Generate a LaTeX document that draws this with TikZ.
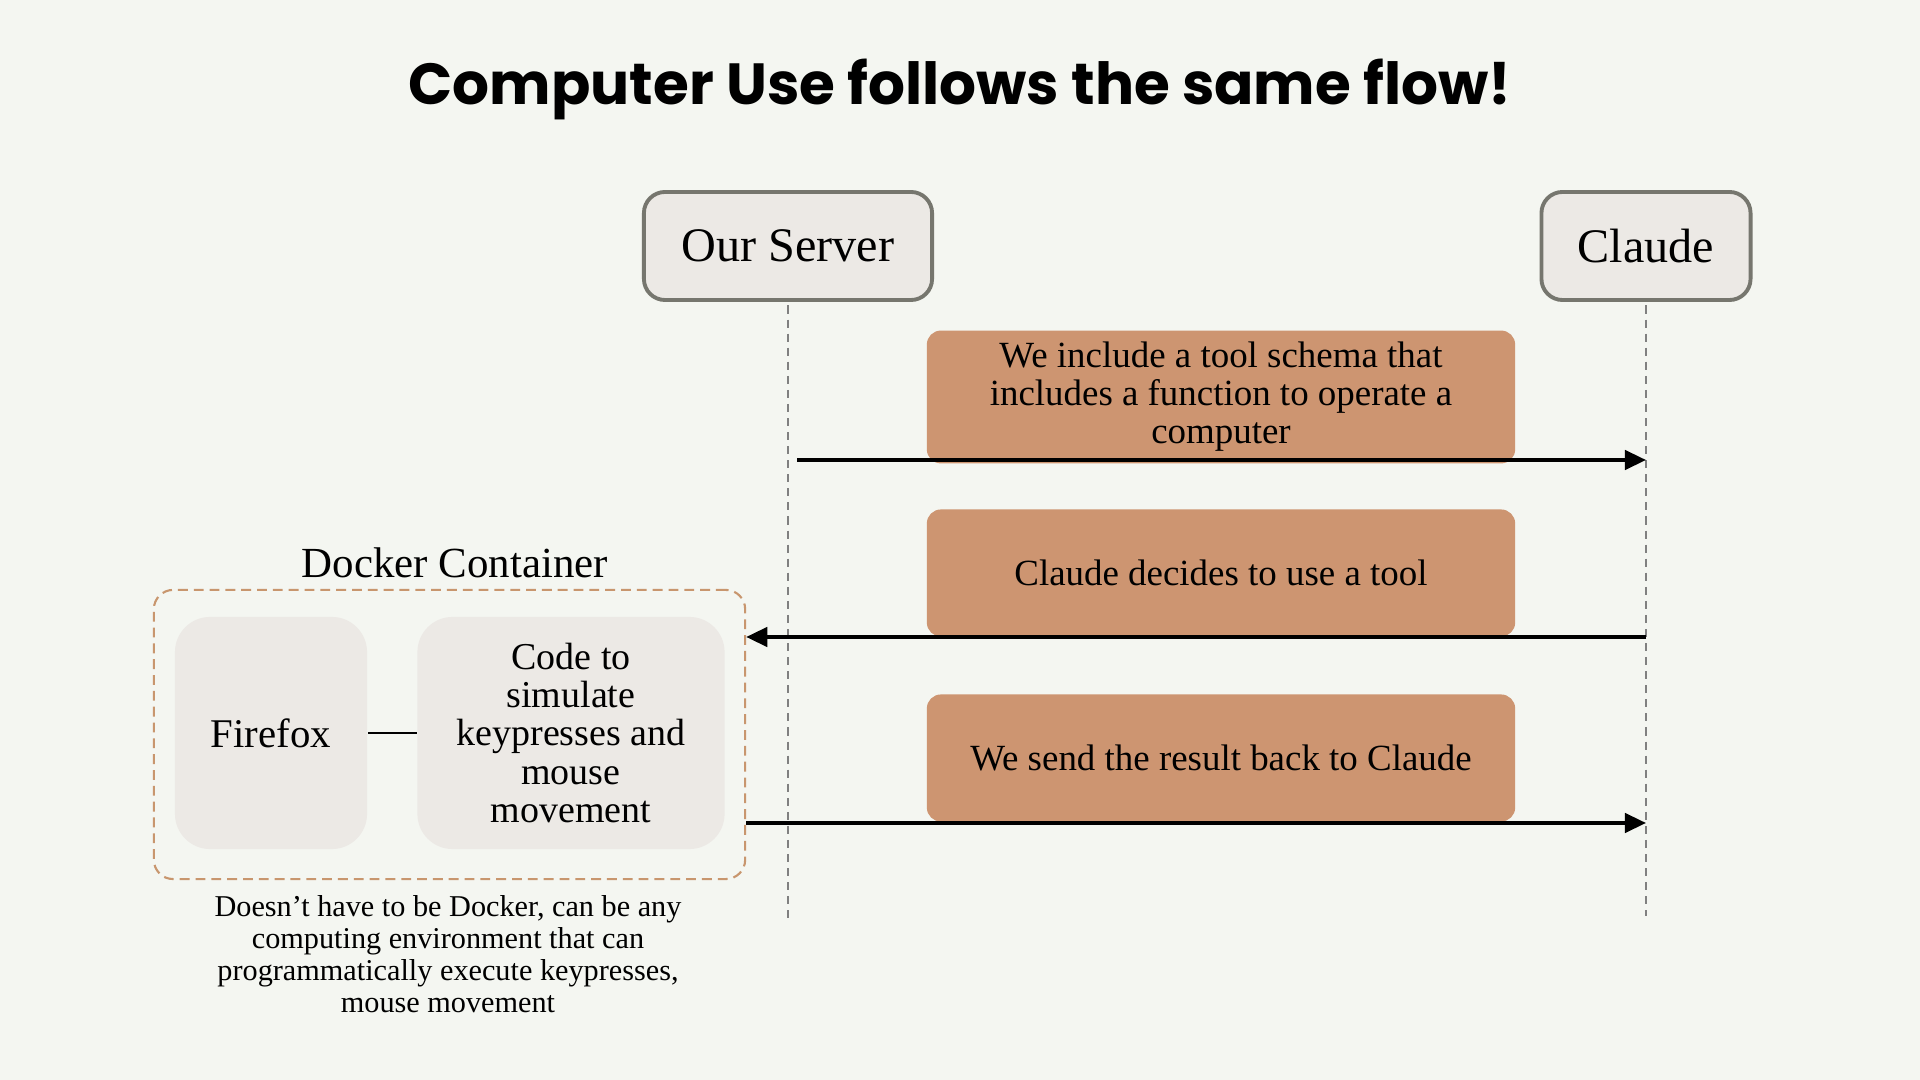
\documentclass[tikz,border=0pt]{standalone}
\usepackage{fontspec}
\setmainfont{Liberation Serif}
\newfontfamily\titlefont{Poppins}
\usetikzlibrary{arrows.meta,positioning}

\definecolor{pagebg}{RGB}{244,246,241}
\definecolor{boxgray}{RGB}{236,233,229}
\definecolor{boxedge}{RGB}{118,118,110}
\definecolor{clay}{RGB}{205,149,113}
\definecolor{claydash}{RGB}{200,150,110}
\definecolor{lifegray}{RGB}{128,128,128}

\tikzset{
    actor/.style={draw=boxedge, line width=1.1pt, fill=boxgray, rounded corners=6pt,
        minimum height=1.08cm, font=\fontsize{13.7}{16}\selectfont},
    msgbox/.style={fill=clay, rounded corners=4pt, minimum width=5.88cm,
        minimum height=1.27cm, align=center, font=\fontsize{10.5}{10.8}\selectfont},
    lifeline/.style={draw=lifegray, line width=0.6pt, dash pattern=on 2.3pt off 1.7pt},
    msg/.style={line width=1pt, -{Triangle[length=6pt,width=5.5pt]}},
    appbox/.style={fill=boxgray, rounded corners=10pt, minimum height=2.32cm,
        align=center, font=\fontsize{10.8}{10.9}\selectfont},
}

\begin{document}
\begin{tikzpicture}[x=0.01cm, y=-0.01cm]
        \useasboundingbox[fill=pagebg] (0,0) rectangle (1920,1080);

        \node[font=\titlefont\bfseries\fontsize{16.5}{20}\selectfont] (title) at (960,89) {Computer Use follows the same flow!};

        % Participants and lifelines
        \node[actor, minimum width=2.88cm] (server) at (788,246) {Our Server};
        \node[actor, minimum width=2.09cm] (claude) at (1646,246) {Claude};
        \coordinate (server end) at (788,918);
        \coordinate (claude end) at (1646,916);
        \draw[lifeline] ([yshift=-1pt]server.south) -- (server end);
        \draw[lifeline] ([yshift=-1pt]claude.south) -- (claude end);

        % Message boxes
        \node[msgbox, minimum height=1.25cm] (schema) at (1221,397) {We include a tool schema that\\includes a function to operate a\\computer};
        \node[msgbox] (decide) at (1221,573) {Claude decides to use a tool};
        \node[msgbox] (result) at (1221,758) {We send the result back to Claude};

        % Docker container
        \node[draw=claydash, line width=0.6pt, dash pattern=on 2.8pt off 1.7pt, rounded corners=5.5pt,
            minimum width=5.91cm, minimum height=2.89cm] (docker) at (449.5,734.5) {};
        \node[font=\fontsize{12.2}{14}\selectfont] (docker label) at (455,563) {Docker Container};
        \node[appbox, minimum width=1.92cm, font=\fontsize{11.6}{12}\selectfont] (firefox) at (271,733) {Firefox};
        \node[appbox, minimum width=3.07cm] (code) at (571,733) {Code to\\simulate\\keypresses and\\mouse\\movement};
        \draw[line width=0.5pt] (firefox) -- (code);
        \node[font=\fontsize{8.6}{9.1}\selectfont, align=center] (note) at (448,954) {Doesn’t have to be Docker, can be any\\computing environment that can\\programmatically execute keypresses,\\mouse movement};

        % Messages
        \coordinate (m1) at (797,460);
        \coordinate (m2) at (1646,637);
        \coordinate (m3) at (745,823);
        \draw[msg] (m1) -- (m1 -| claude.south);
        \draw[msg] (m2) -- (m2 -| docker.east);
        \draw[msg] (m3 -| docker.east) -- (m3 -| claude.south);
    \end{tikzpicture}
\end{document}
